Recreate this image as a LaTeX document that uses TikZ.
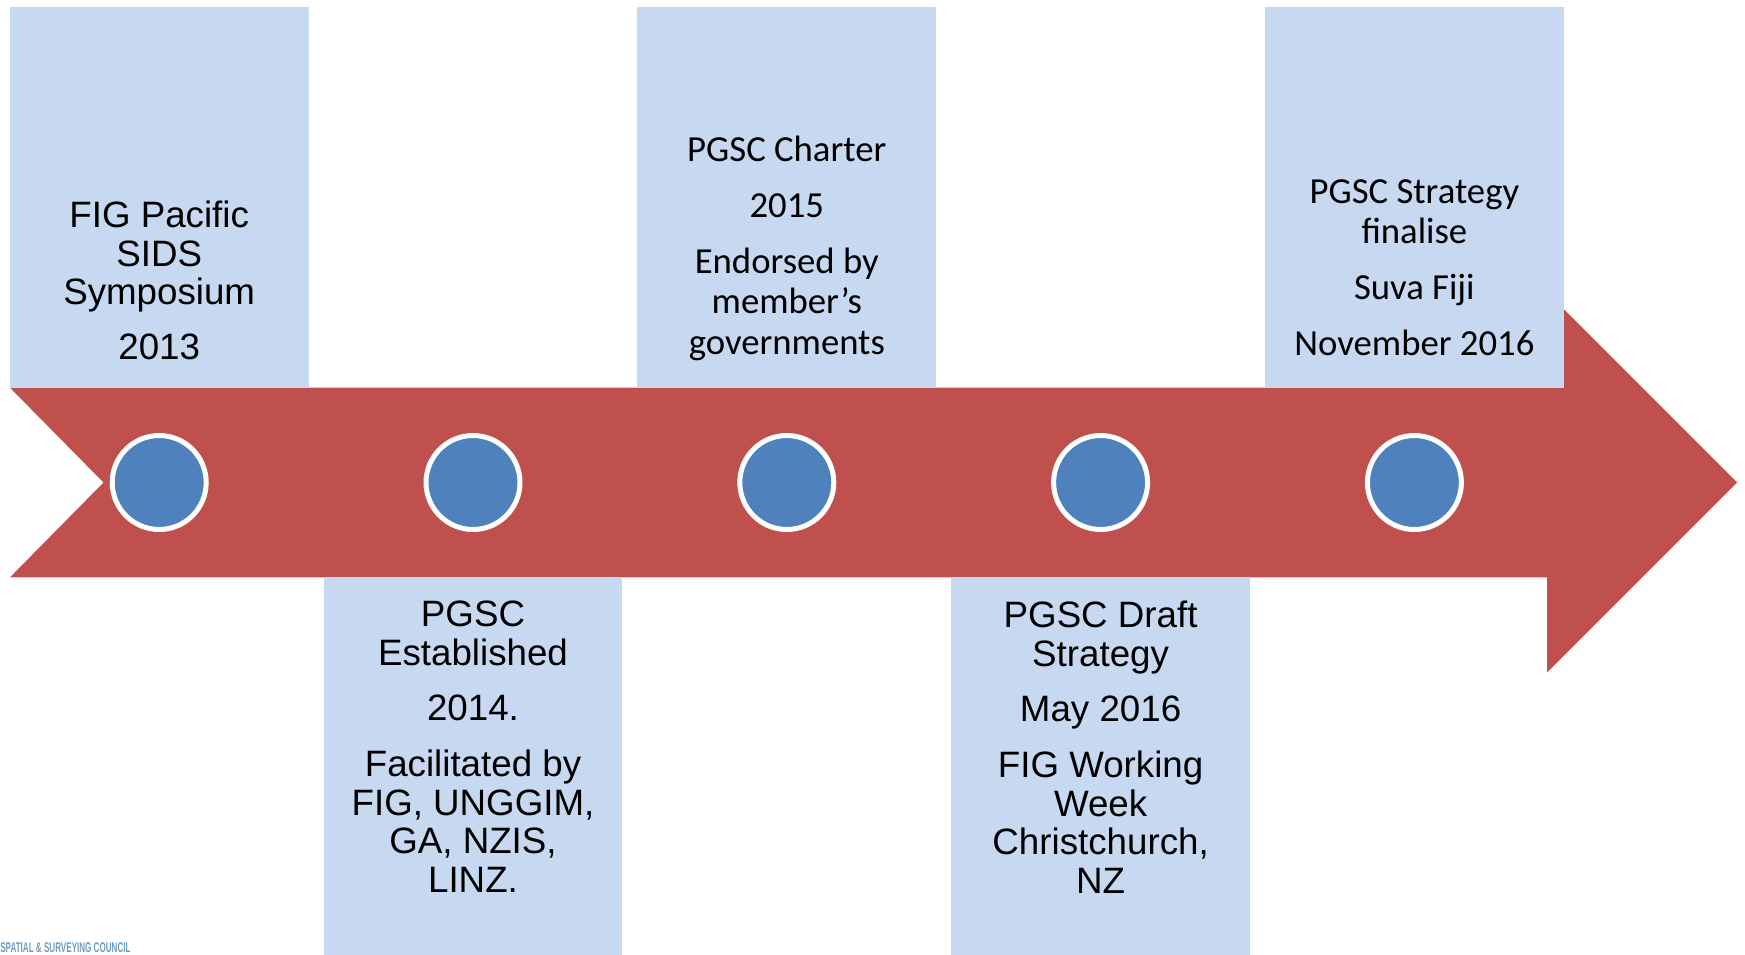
\documentclass[tikz,border=0pt]{standalone}
\usepackage{fontspec}
\usepackage{graphicx}
\setmainfont{Liberation Sans}
\newfontfamily\calibrifont{Carlito}

\definecolor{boxblue}{HTML}{C6D9F1}
\definecolor{bandred}{HTML}{C0504D}
\definecolor{dotblue}{HTML}{4F81BD}
\definecolor{logoblue}{HTML}{6E9CC6}

\tikzset{
  eventbox/.style={fill=boxblue, minimum width=5.98cm, inner sep=0pt},
  topbox/.style={eventbox, minimum height=7.61cm},
  lowbox/.style={eventbox, minimum height=7.66cm},
  eventdot/.style={circle, fill=dotblue, draw=white, line width=0.1cm, minimum size=1.88cm, inner sep=0pt},
  arialtext/.style={align=center, inner sep=0pt, anchor=north, font=\fontsize{20.9}{22}\selectfont},
  calibritext/.style={align=center, inner sep=0pt, anchor=north, font=\calibrifont\fontsize{20.9}{22.9}\selectfont},
}

\begin{document}
\begin{tikzpicture}[x=0.02cm, y=-0.02cm]
\useasboundingbox (0,0) rectangle (1745,954);

% timeline arrow
\fill[bandred] (10,387.7) -- (1547,387.7) -- (1547,292.3) -- (1737.2,482.5) -- (1547,672.7)
  -- (1547,577.3) -- (10,577.3) -- (103.5,482.5) -- cycle;

\node[topbox] (BoxA) at (159.2,197.5) {};
\node[lowbox] (BoxB) at (473,768.7) {};
\node[topbox] (BoxC) at (786.8,197.5) {};
\node[lowbox] (BoxD) at (1100.6,768.7) {};
\node[topbox] (BoxE) at (1414.4,197.5) {};

\node[eventdot] (DotA) at (159.2,482.5) {};
\node[eventdot] (DotB) at (473,482.5) {};
\node[eventdot] (DotC) at (786.8,482.5) {};
\node[eventdot] (DotD) at (1100.6,482.5) {};
\node[eventdot] (DotE) at (1414.4,482.5) {};

\node[arialtext] (TextA) at (159.2,200.4) {FIG Pacific\\SIDS\\Symposium\\[9.4pt]2013};
\node[arialtext] (TextB) at (473,600.8) {PGSC\\Established\\[9.6pt]2014.\\[9.6pt]Facilitated by\\FIG, UNGGIM,\\GA, NZIS,\\LINZ.};
\node[calibritext] (TextC) at (786.8,135.8) {PGSC Charter\\[9pt]2015\\[9pt]Endorsed by\\member’s\\governments};
\node[arialtext] (TextD) at (1100.6,600.8) {PGSC Draft\\Strategy\\[9.6pt]May 2016\\[9.6pt]FIG Working\\Week\\Christchurch,\\NZ};
\node[calibritext] (TextE) at (1414.4,179) {PGSC Strategy\\finalise\\[9pt]Suva Fiji\\[9pt]November 2016};

\node[anchor=north west, inner sep=0pt, text=logoblue, font=\bfseries\fontsize{8}{9}\selectfont] (Logo) at (0,942.5) {\scalebox{0.575}[1]{SPATIAL \& SURVEYING COUNCIL}};
\end{tikzpicture}
\end{document}
